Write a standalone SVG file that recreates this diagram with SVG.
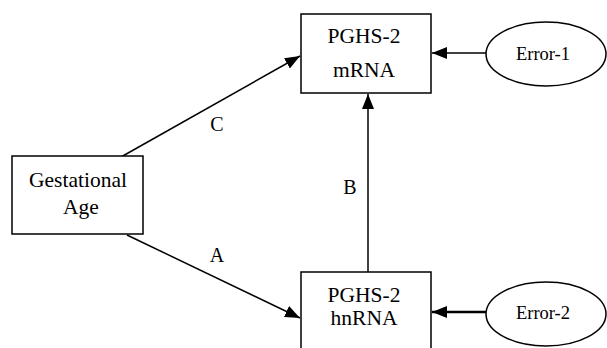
<svg xmlns="http://www.w3.org/2000/svg" width="607" height="348" viewBox="0 0 607 348">
<style>
.box{fill:#fff;stroke:#000;stroke-width:1.5}
.ell{fill:#fff;stroke:#000;stroke-width:1.5}
.t{font-family:"Liberation Serif","Times New Roman",serif;font-size:21.5px;fill:#000;text-anchor:middle}
.l{font-size:20px}
.e{font-size:18.5px}
.c{stroke:#000;stroke-width:1.5;fill:none;marker-end:url(#ah)}
.thick{stroke-width:2.5}
</style>
<defs>
<marker id="ah" markerUnits="userSpaceOnUse" markerWidth="16" markerHeight="14" viewBox="0 0 16 14" refX="15" refY="7" orient="auto">
<path d="M0,1 L15,7 L0,13 Z" fill="#000"/>
</marker>
</defs>
<rect width="607" height="348" fill="#fff"/>
<g id="connectors">
<line class="c" x1="121" y1="157" x2="300" y2="56"/>
<line class="c" x1="127" y1="235" x2="300" y2="318"/>
<line class="c" x1="368" y1="272" x2="368" y2="94"/>
<line class="c" x1="486" y1="53" x2="432" y2="53"/>
<line class="c thick" x1="486" y1="312" x2="432" y2="312"/>
</g>
<g id="labels">
<text class="t l" x="217" y="131">C</text>
<text class="t l" x="217" y="262">A</text>
<text class="t l" x="350" y="194">B</text>
</g>
<g id="gestational-age">
<rect class="box" x="12" y="156" width="131" height="78"/>
<text class="t" x="78" y="187">Gestational</text>
<text class="t" x="81" y="214">Age</text>
</g>
<g id="mrna">
<rect class="box" x="301" y="14" width="130" height="79"/>
<text class="t" x="364" y="43">PGHS-2</text>
<text class="t" x="364" y="77">mRNA</text>
</g>
<g id="hnrna">
<rect class="box" x="301" y="272" width="130" height="80"/>
<text class="t" x="364" y="302">PGHS-2</text>
<text class="t" x="364" y="325">hnRNA</text>
</g>
<g id="error-1">
<ellipse class="ell" cx="546" cy="54" rx="60" ry="32"/>
<text class="t e" x="543" y="60">Error-1</text>
</g>
<g id="error-2">
<ellipse class="ell" cx="546" cy="314" rx="60" ry="32"/>
<text class="t e" x="543" y="319">Error-2</text>
</g>
</svg>
